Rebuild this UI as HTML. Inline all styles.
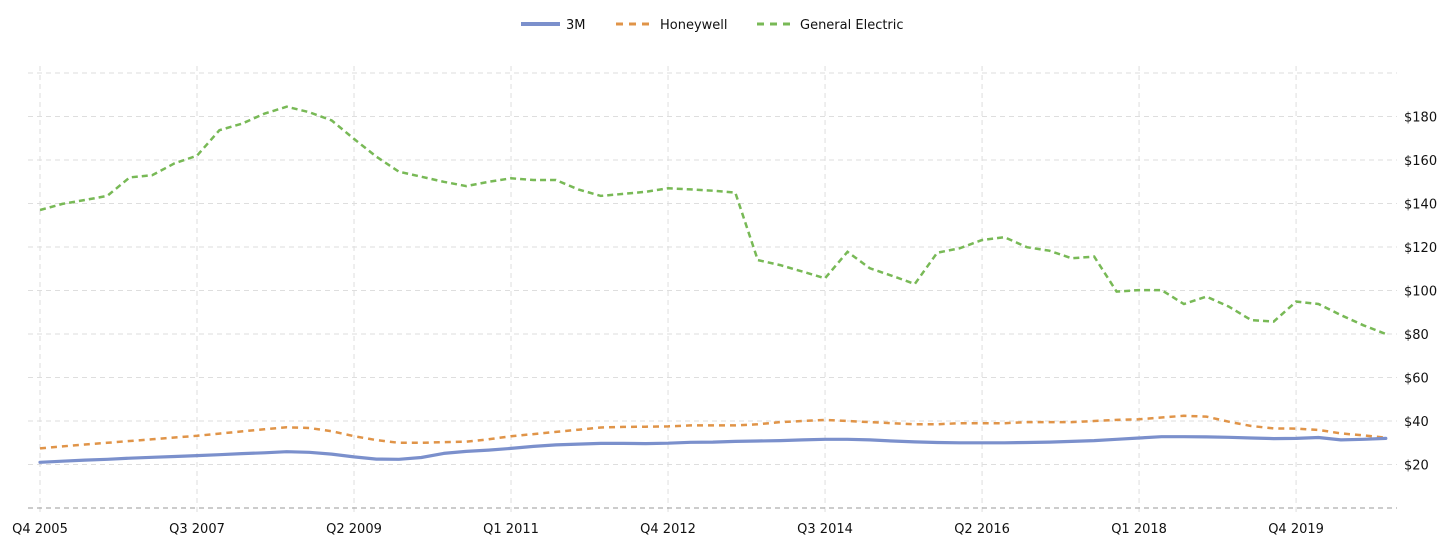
<!DOCTYPE html>
<html><head><meta charset="utf-8"><style>
html,body{margin:0;padding:0;background:#fff;}
svg{display:block;font-family:"DejaVu Sans","Liberation Sans",sans-serif;}
</style></head><body>
<svg id="chart" width="1456" height="553" viewBox="0 0 1456 553" xmlns="http://www.w3.org/2000/svg">
<g id="legend">
 <g><line x1="521" y1="24" x2="560" y2="24" stroke="#7b90cc" stroke-width="4"/><text x="566" y="29" font-size="13" fill="#111">3M</text></g>
 <g><line x1="616" y1="24" x2="655" y2="24" stroke="#e09448" stroke-width="3" stroke-dasharray="7,6"/><text x="660" y="29" font-size="13" fill="#111">Honeywell</text></g>
 <g><line x1="757" y1="24" x2="796" y2="24" stroke="#78b956" stroke-width="3" stroke-dasharray="7,6"/><text x="800" y="29" font-size="13" fill="#111">General Electric</text></g>
</g>
<g id="grid"></g>
<g id="axes"></g>
<g id="series"></g>
</svg>
<script>
const xLabels = ["Q4 2005","Q3 2007","Q2 2009","Q1 2011","Q4 2012","Q3 2014","Q2 2016","Q1 2018","Q4 2019"];
const yTicks = [20,40,60,80,100,120,140,160,180,200];
const mmm = [21,21.5,22,22.4,22.9,23.3,23.7,24.1,24.5,25,25.4,25.9,25.6,24.8,23.5,22.5,22.4,23.2,25.1,26,26.6,27.4,28.3,29,29.4,29.7,29.7,29.6,29.8,30.2,30.3,30.6,30.8,31,31.3,31.6,31.6,31.3,30.8,30.4,30.1,30,30,30,30.1,30.3,30.6,31,31.6,32.2,32.8,32.8,32.7,32.5,32.2,31.9,32,32.4,31.3,31.6,32];
const honeywell = [27.4,28.3,29.2,30,30.8,31.6,32.4,33.2,34.2,35.2,36.2,37.1,36.8,35.3,33,31.2,30,30,30.3,30.5,31.6,33,34,35,36,37,37.3,37.4,37.5,38,38,38,38.5,39.5,40,40.5,40,39.5,39,38.5,38.5,39,39,39,39.5,39.5,39.5,40,40.5,40.8,41.6,42.4,42,39.7,37.7,36.6,36.5,35.9,34.3,33.4,32.3];
const ge = [137,139.8,141.6,143.5,152,153,158.5,162,173.7,176.7,181.3,184.5,182,178.2,169.7,161.5,154.6,152.3,150,148,150,151.6,150.8,150.8,146.5,143.5,144.4,145.4,147,146.5,145.9,145,114,111.7,108.7,105.6,117.8,110.2,106.7,103,117.4,119.4,123.2,124.5,119.9,118.3,114.8,115.6,99.5,100.2,100.2,93.8,97.2,92.6,86.4,85.7,94.9,93.8,88.7,84,80];

const NS="http://www.w3.org/2000/svg";
const X0=40, DX=22.43, Y0=508, KY=2.175;
function xs(i){return X0+DX*i;}
function ys(v){return Y0-KY*v;}
function mk(tag,attrs,parent){const e=document.createElementNS(NS,tag);for(const k in attrs)e.setAttribute(k,attrs[k]);parent.appendChild(e);return e;}
const grid=document.getElementById('grid'), axes=document.getElementById('axes'), series=document.getElementById('series');

yTicks.forEach(v=>{
  const l=mk('line',{x1:28,x2:1397,y1:ys(v),y2:ys(v),stroke:'#dedede','stroke-width':1,'stroke-dasharray':'5,4'},grid);
  
  
  if(v<200){
    const t=mk('text',{x:1404,y:ys(v)+5,'font-size':13,fill:'#111'},axes);
    
    
    t.textContent='$'+v;
  }
});
xLabels.forEach((s,k)=>{
  const x=xs(k*7);
  const l=mk('line',{x1:x,x2:x,y1:66,y2:514,stroke:'#dedede','stroke-width':1,'stroke-dasharray':'5,4'},grid);
  
  
  const t=mk('text',{x:x,y:533,'font-size':13,fill:'#111','text-anchor':'middle'},axes);
  
  
  t.textContent=s;
});
const base=mk('line',{x1:28,x2:1397,y1:Y0,y2:Y0,stroke:'#999','stroke-width':1,'stroke-dasharray':'5,4'},axes);



function pts(arr){return arr.map((v,i)=>xs(i).toFixed(1)+','+ys(v).toFixed(1)).join(' ');}
const pGE=mk('polyline',{points:pts(ge),fill:'none',stroke:'#78b956','stroke-width':2.5,'stroke-dasharray':'6,4'},series);


const pHW=mk('polyline',{points:pts(honeywell),fill:'none',stroke:'#e09448','stroke-width':2.5,'stroke-dasharray':'6,5'},series);


const p3M=mk('polyline',{points:pts(mmm),fill:'none',stroke:'#7b90cc','stroke-width':3.2,'stroke-linejoin':'round','stroke-linecap':'round'},series);


</script>
</body></html>
